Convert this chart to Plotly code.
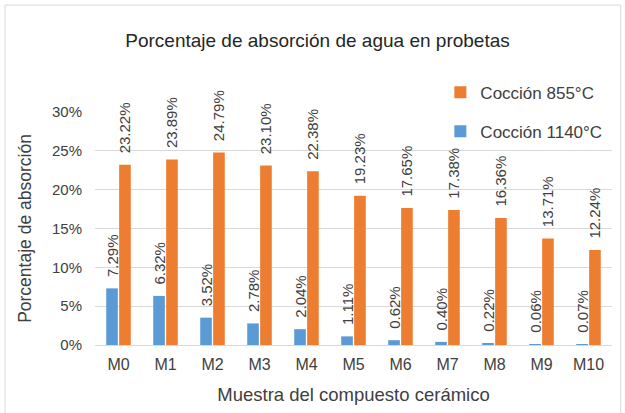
import plotly.graph_objects as go

categories = ["M0", "M1", "M2", "M3", "M4", "M5", "M6", "M7", "M8", "M9", "M10"]
coccion_1140 = [7.29, 6.32, 3.52, 2.78, 2.04, 1.11, 0.62, 0.40, 0.22, 0.06, 0.07]
coccion_855 = [23.22, 23.89, 24.79, 23.10, 22.38, 19.23, 17.65, 17.38, 16.36, 13.71, 12.24]
y_ticks = [0, 5, 10, 15, 20, 25, 30]
y_ticklabels = [f"{v}%" for v in y_ticks]

FONT = "Liberation Sans, Arial, sans-serif"
TXT = "#404040"
PAD = "\u00a0\u00a0"  # small gap between bar top and its label

fig = go.Figure()
fig.add_trace(go.Bar(
    x=categories, y=coccion_1140, name="Cocción 1140°C",
    marker=dict(color="#5B9BD5", line=dict(width=0)),
    text=[f"{PAD}{v:.2f}%" for v in coccion_1140], textposition="outside",
    textangle=-90, textfont=dict(size=15, color=TXT, family=FONT),
    constraintext="none", cliponaxis=False, legendgroup="a", legendrank=2,
    hovertemplate="%{x}: %{y:.2f}%<extra>Cocción 1140°C</extra>",
))
fig.add_trace(go.Bar(
    x=categories, y=coccion_855, name="Cocción 855°C",
    marker=dict(color="#ED7D31", line=dict(width=0)),
    text=[f"{PAD}{v:.2f}%" for v in coccion_855], textposition="outside",
    textangle=-90, textfont=dict(size=15, color=TXT, family=FONT),
    constraintext="none", cliponaxis=False, legendgroup="b", legendrank=1,
    hovertemplate="%{x}: %{y:.2f}%<extra>Cocción 855°C</extra>",
))

fig.update_layout(
    width=625, height=413,
    margin=dict(l=95, r=13, t=112, b=68, autoexpand=False),
    paper_bgcolor="white", plot_bgcolor="white",
    font=dict(family=FONT, color=TXT, size=15),
    barmode="group", bargap=0.45, bargroupgap=0.1,
    title=dict(text="Porcentaje de absorción de agua en probetas",
               x=0.508, xref="container", xanchor="center",
               y=1 - 40 / 413, yref="container", yanchor="middle",
               font=dict(size=19, color="#262626", family=FONT)),
    legend=dict(x=0.668, y=1.16, xanchor="left", yanchor="top",
                traceorder="grouped", tracegroupgap=14,
                bgcolor="rgba(0,0,0,0)", font=dict(size=17, color=TXT, family=FONT),
                itemwidth=30),
    shapes=[dict(type="rect", xref="paper", yref="paper",
                 x0=-0.174, x1=1.017, y0=-0.32, y1=1.459,
                 line=dict(color="#D9D9D9", width=1), fillcolor="rgba(0,0,0,0)",
                 layer="below")],
)
fig.update_xaxes(
    showgrid=False, showline=True, linecolor="#D9D9D9", linewidth=1,
    ticks="", tickfont=dict(size=16, color=TXT), ticklabelstandoff=5,
    title=dict(text="Muestra del compuesto cerámico", font=dict(size=18.5, color=TXT), standoff=15),
)
fig.update_yaxes(
    range=[0, 30], tickvals=y_ticks, ticktext=y_ticklabels,
    showgrid=True, gridcolor="#D9D9D9", gridwidth=1, zeroline=False,
    ticks="", tickfont=dict(size=15, color=TXT), ticklabelstandoff=12,
    title=dict(text="Porcentaje de absorción", font=dict(size=17.5, color=TXT), standoff=15),
)

fig.write_html("out.html", config={"displayModeBar": False},
               post_script="document.body.style.margin='0';")
